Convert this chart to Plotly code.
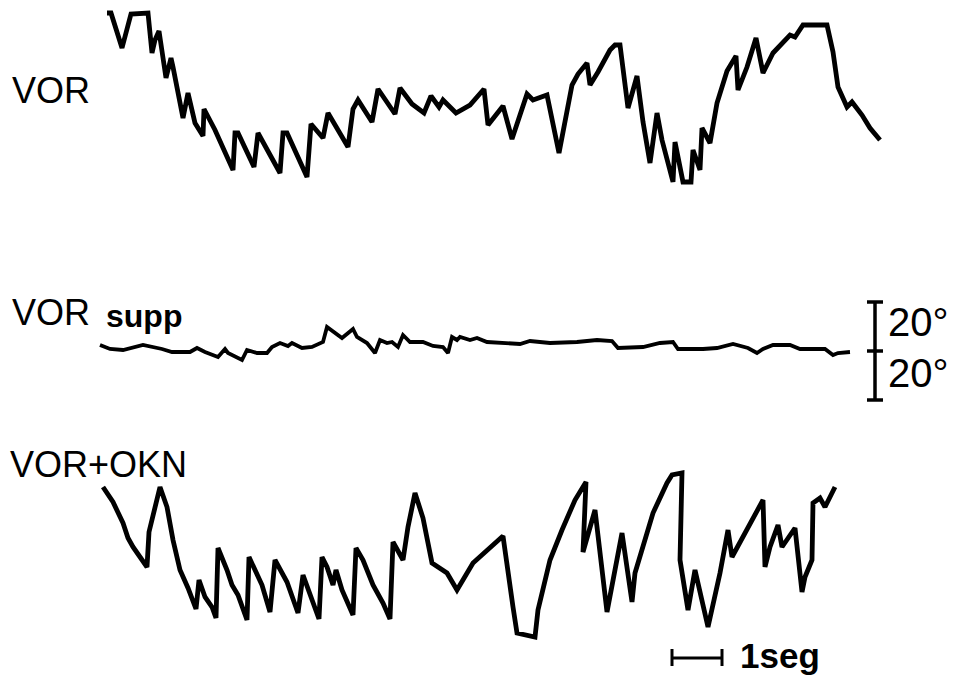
import plotly.graph_objects as go

# Horizontal position along the recording (chart units) and vertical eye-position trace level
vor_x = [107, 111, 122, 131, 148, 152, 155, 159, 166, 171, 173, 183, 188, 195, 203, 204, 215, 233,
         235, 238, 254, 258, 280, 283, 287, 307, 311, 323, 328, 348, 353, 358, 372, 378, 395, 400,
         412, 424, 431, 439, 443, 456, 470, 484, 488, 503, 512, 527, 533, 547, 559, 572, 578, 587,
         590, 598, 610, 615, 620, 628, 637, 643, 650, 657, 662, 673, 675, 683, 691, 693, 700, 702,
         710, 717, 727, 736, 738, 747, 756, 763, 773, 790, 795, 803, 827, 833, 838, 847, 852, 862,
         870, 880]
vor_y = [13, 13, 48, 14, 13, 53, 40, 31, 78, 58, 67, 118, 93, 123, 136, 109, 130, 170,
         133, 133, 167, 133, 173, 133, 133, 177, 124, 138, 113, 147, 109, 100, 122, 89, 114, 88,
         104, 113, 96, 107, 100, 113, 105, 89, 125, 106, 139, 94, 100, 95, 153, 85, 74, 63,
         85, 72, 50, 45, 45, 108, 76, 122, 163, 113, 140, 182, 142, 182, 182, 150, 170, 128,
         143, 103, 71, 56, 90, 67, 38, 73, 53, 35, 37, 25, 25, 52, 87, 107, 102, 115,
         128, 140]

supp_x = [100, 110, 123, 143, 162, 172, 190, 197, 205, 218, 225, 228, 242, 247, 257, 267, 272, 280,
          288, 292, 302, 312, 323, 327, 342, 353, 357, 367, 375, 380, 387, 392, 398, 403, 410, 423,
          433, 443, 448, 452, 457, 460, 470, 477, 487, 503, 520, 530, 550, 577, 597, 612, 618, 643,
          660, 673, 678, 703, 717, 733, 748, 757, 763, 773, 790, 800, 825, 833, 838, 850]
supp_y = [345, 349, 350, 345, 349, 352, 352, 348, 352, 357, 349, 353, 360, 350, 353, 353, 347, 343,
          346, 343, 348, 347, 342, 327, 338, 329, 337, 343, 353, 340, 343, 342, 347, 335, 342, 342,
          346, 347, 353, 337, 340, 337, 340, 338, 342, 343, 344, 341, 343, 342, 340, 341, 348, 347,
          343, 342, 349, 349, 348, 344, 348, 353, 349, 345, 345, 349, 349, 355, 353, 352]

okn_x = [103, 113, 123, 128, 133, 147, 149, 160, 167, 173, 180, 188, 196, 199, 205, 212, 216, 218,
         227, 232, 238, 247, 249, 255, 262, 270, 275, 287, 298, 303, 310, 319, 322, 327, 333, 336,
         342, 353, 356, 363, 373, 383, 390, 393, 403, 408, 415, 423, 432, 447, 457, 473, 503, 507,
         513, 517, 535, 538, 550, 562, 575, 586, 583, 595, 607, 622, 632, 635, 653, 667, 672, 682,
         680, 688, 695, 708, 720, 728, 732, 763, 765, 770, 778, 782, 795, 802, 805, 812, 813, 820,
         825, 835]
okn_y = [487, 502, 523, 538, 547, 567, 532, 487, 507, 540, 570, 588, 609, 580, 597, 607, 618, 548,
         570, 585, 595, 620, 557, 570, 585, 612, 560, 582, 613, 575, 593, 619, 557, 567, 585, 570,
         590, 615, 548, 560, 585, 603, 619, 542, 560, 527, 493, 518, 563, 573, 590, 563, 536, 567,
         607, 633, 637, 610, 560, 530, 500, 482, 552, 510, 612, 533, 602, 573, 513, 483, 475, 473,
         560, 610, 570, 627, 573, 530, 557, 500, 567, 547, 525, 547, 528, 592, 577, 560, 503, 498,
         507, 487]

# Calibration bars: 20 deg (vertical) and 1 s (horizontal)
deg_bar_x = [867, 883, None, 875, 875, None, 867, 883, None, 867, 883]
deg_bar_y = [302, 302, None, 302, 400, None, 351, 351, None, 400, 400]
sec_bar_x = [672, 672, None, 672, 722, None, 722, 722]
sec_bar_y = [649, 666, None, 658, 658, None, 649, 666]

FONT = "Liberation Sans, Arial, sans-serif"
INK = "#000000"

fig = go.Figure()
fig.add_trace(go.Scatter(x=vor_x, y=vor_y, mode="lines",
                         line=dict(color=INK, width=4.8), hoverinfo="skip"))
fig.add_trace(go.Scatter(x=supp_x, y=supp_y, mode="lines",
                         line=dict(color=INK, width=3.8), hoverinfo="skip"))
fig.add_trace(go.Scatter(x=okn_x, y=okn_y, mode="lines",
                         line=dict(color=INK, width=4.8), hoverinfo="skip"))
fig.add_trace(go.Scatter(x=deg_bar_x, y=deg_bar_y, mode="lines",
                         line=dict(color=INK, width=3.5), hoverinfo="skip"))
fig.add_trace(go.Scatter(x=sec_bar_x, y=sec_bar_y, mode="lines",
                         line=dict(color=INK, width=3), hoverinfo="skip"))

ann = [
    dict(x=10, y=90, text="VOR", size=36),
    dict(x=10, y=312, text="VOR", size=36),
    dict(x=104, y=316, text="<b>supp</b>", size=32),
    dict(x=8, y=464, text="VOR+OKN", size=36),
    dict(x=886, y=322, text="20°", size=40),
    dict(x=886, y=373, text="20°", size=40),
    dict(x=738, y=655, text="<b>1seg</b>", size=35),
]
for a in ann:
    fig.add_annotation(x=a["x"], y=a["y"], text=a["text"], showarrow=False,
                       xanchor="left", yanchor="middle", xref="x", yref="y",
                       font=dict(family=FONT, size=a["size"], color=INK))

fig.update_layout(
    width=958, height=680,
    margin=dict(l=0, r=0, t=0, b=0),
    paper_bgcolor="white", plot_bgcolor="white",
    showlegend=False,
    xaxis=dict(range=[0, 958], visible=False, fixedrange=True),
    yaxis=dict(range=[680, 0], visible=False, fixedrange=True),
)

fig.write_html("out.html", config={"displayModeBar": False},
               post_script="document.body.style.margin='0';document.body.style.overflow='hidden';")
